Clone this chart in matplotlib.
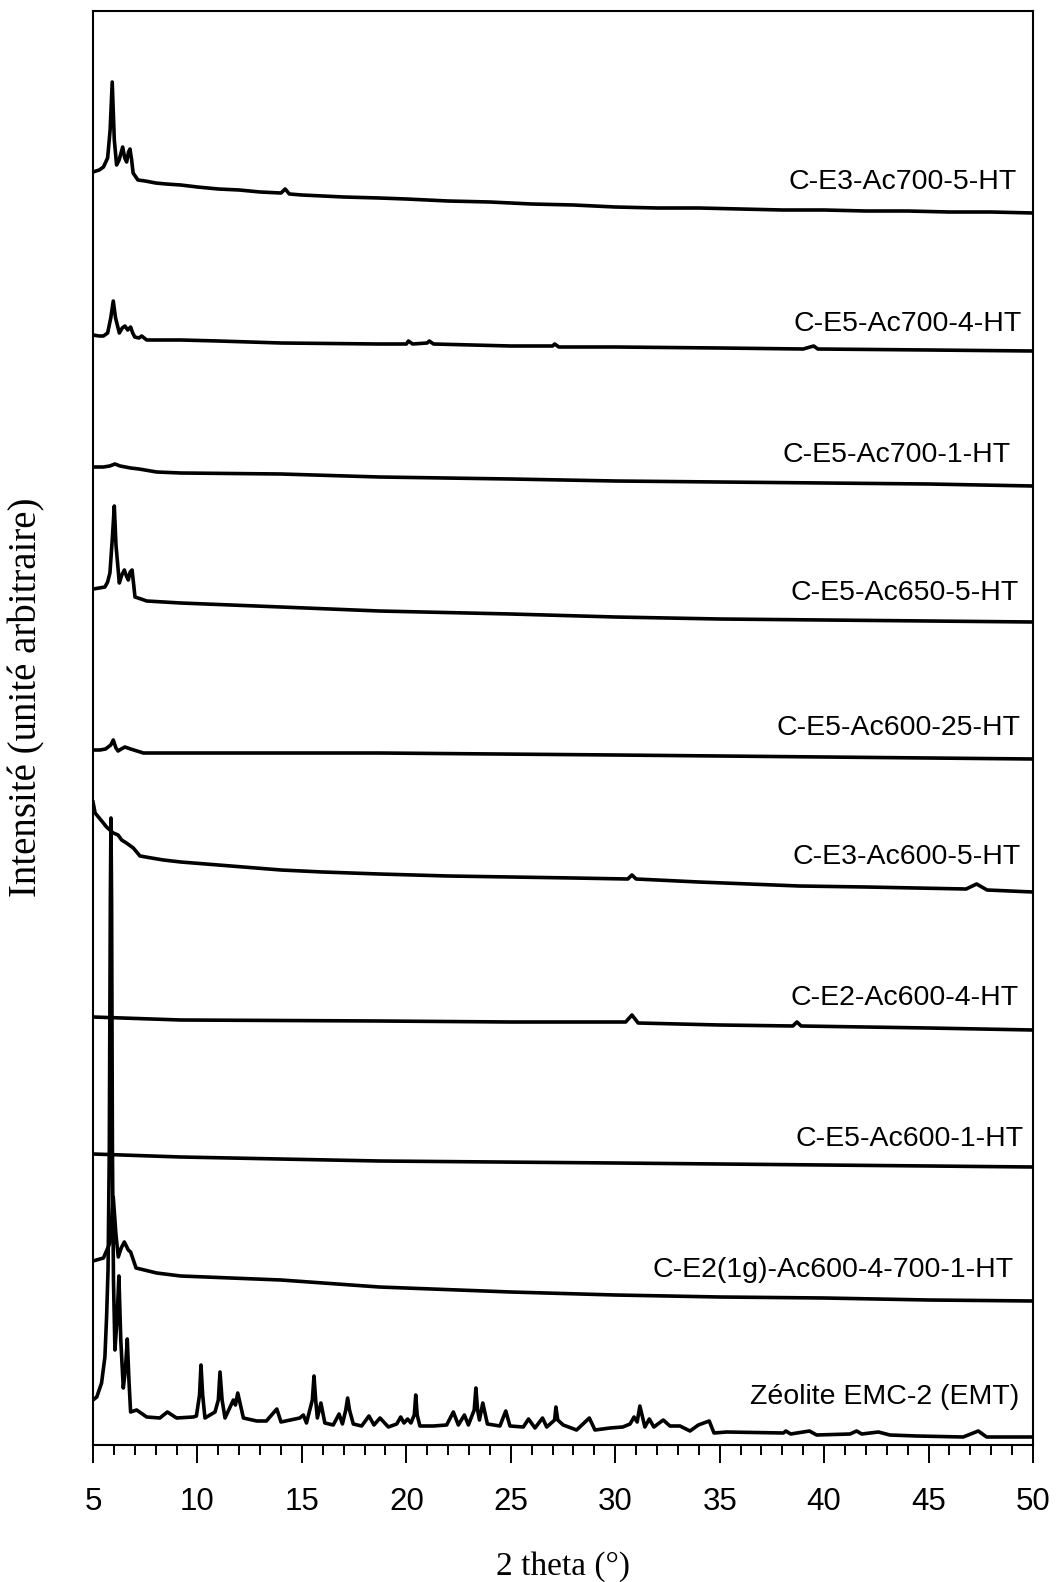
import matplotlib
matplotlib.use("Agg")
import matplotlib.pyplot as plt
import numpy as np

# ---------------- data (2 theta in degrees, intensity in arbitrary stacked units) ----------------
names = [
    "C-E3-Ac700-5-HT",
    "C-E5-Ac700-4-HT",
    "C-E5-Ac700-1-HT",
    "C-E5-Ac650-5-HT",
    "C-E5-Ac600-25-HT",
    "C-E3-Ac600-5-HT",
    "C-E2-Ac600-4-HT",
    "C-E5-Ac600-1-HT",
    "C-E2(1g)-Ac600-4-700-1-HT",
    "Zéolite EMC-2 (EMT)",
]

x_e3_700_5 = [5.0, 5.3, 5.5, 5.7, 5.82, 5.92, 6.02, 6.13, 6.25, 6.42, 6.52, 6.61, 6.7, 6.77, 6.85, 6.92,
              7.15, 7.5, 8.0, 8.5, 9.2, 10, 11, 12, 13, 14, 14.2, 14.4, 15, 16, 17, 18.7, 20, 22, 24, 26, 28,
              30, 32, 34, 36, 38, 40, 42, 44, 46, 48, 50]
y_e3_700_5 = [1273, 1275, 1278, 1287, 1315, 1363, 1305, 1280, 1285, 1298, 1287, 1283, 1293, 1296, 1285, 1272,
              1265, 1264, 1262, 1261, 1260, 1258, 1256, 1255, 1253, 1252, 1256, 1251, 1250, 1249, 1248, 1247,
              1246, 1244, 1243, 1241, 1240, 1238, 1237, 1237, 1236, 1235, 1235, 1234, 1234, 1233, 1233, 1232]

x_e5_700_4 = [5.0, 5.3, 5.5, 5.7, 5.85, 5.97, 6.08, 6.26, 6.4, 6.53, 6.66, 6.8, 6.9, 7.0, 7.2, 7.33, 7.57,
              8.5, 9.2, 11, 14, 18.7, 20, 20.1, 20.3, 21, 21.1, 21.3, 25, 27, 27.1, 27.3, 30, 35, 39, 39.5,
              39.7, 45, 50]
y_e5_700_4 = [1110, 1109, 1109, 1112, 1127, 1144, 1127, 1112, 1117, 1119, 1115, 1118, 1112, 1108, 1107, 1109,
              1105, 1105, 1105, 1104, 1102, 1101, 1101, 1104, 1101, 1102, 1104, 1101, 1099, 1099, 1101, 1098,
              1098, 1097, 1096, 1099, 1096, 1095, 1094]

x_e5_700_1 = [5.0, 5.5, 5.8, 6.05, 6.3, 6.8, 7.2, 8.05, 9.2, 14, 18.7, 25, 30, 35, 40, 45, 50]
y_e5_700_1 = [978, 978, 979, 981, 979, 977, 976, 973, 972, 971, 968, 966, 964, 963, 962, 961, 959]

x_e5_650_5 = [5.0, 5.3, 5.57, 5.7, 5.81, 5.92, 6.02, 6.1, 6.26, 6.38, 6.5, 6.6, 6.69, 6.78, 6.87, 6.95,
              7.01, 7.3, 7.57, 9.2, 14, 18.7, 25, 30, 35, 40, 45, 50]
y_e5_650_5 = [856, 857, 858, 863, 872, 905, 939, 900, 862, 870, 875, 869, 865, 873, 875, 860,
              848, 846, 844, 842, 838, 834, 831, 828, 826, 825, 824, 823]

x_e5_600_25 = [5.0, 5.33, 5.6, 5.85, 5.97, 6.1, 6.2, 6.35, 6.53, 6.8, 7.41, 9.2, 18.7, 30, 40, 50]
y_e5_600_25 = [695, 695, 696, 700, 705, 697, 694, 696, 698, 696, 692, 692, 692, 690, 688, 686]

x_e3_600_5 = [5.0, 5.1, 5.3, 5.65, 5.97, 6.2, 6.37, 6.6, 6.93, 7.25, 7.8, 8.37, 9.2, 11, 14, 16, 18.7, 22,
              25, 28, 30.6, 30.8, 31.0, 34, 38.8, 42, 46.8, 47.3, 47.8, 50]
y_e3_600_5 = [643, 632, 627, 618, 612, 610, 605, 602, 597, 589, 587, 585, 583, 580, 575, 573, 571, 569,
              568, 567, 566, 570, 566, 563, 559, 558, 556, 561, 555, 553]

x_e2_600_4 = [5.0, 9.2, 18.7, 25, 30.5, 30.8, 31.1, 35, 38.5, 38.7, 38.9, 45, 50]
y_e2_600_4 = [428, 425, 424, 423, 423, 430, 422, 420, 419, 423, 419, 417, 415]

x_e5_600_1 = [5.0, 9.2, 18.7, 30, 40, 50]
y_e5_600_1 = [291, 288, 284, 282, 280, 278]

x_e2_1g = [5.0, 5.5, 5.81, 5.97, 6.1, 6.21, 6.35, 6.5, 6.69, 6.8, 6.9, 7.06, 8.05, 9.2, 14, 18.7, 25, 30,
           35, 40, 45, 50]
y_e2_1g = [184, 187, 202, 248, 210, 188, 197, 203, 195, 193, 187, 177, 172, 169, 165, 158, 153, 150,
           148, 147, 145, 144]

x_emt = [5.0, 5.18, 5.41, 5.57, 5.65, 5.72, 5.78, 5.83, 5.86, 5.89, 5.93, 5.98, 6.05, 6.15, 6.24, 6.33,
         6.45, 6.55, 6.64, 6.72, 6.8, 7.09, 7.57, 8.2, 8.56, 9.0, 9.8, 9.95, 10.1, 10.17, 10.25, 10.36,
         10.84, 11.0, 11.08, 11.18, 11.32, 11.72, 11.82, 11.93, 12.2, 12.84, 13.3, 13.8, 14.0, 14.9,
         15.07, 15.22, 15.5, 15.58, 15.66, 15.74, 15.91, 16.1, 16.5, 16.78, 16.94, 17.1, 17.19, 17.28,
         17.46, 17.86, 18.21, 18.45, 18.74, 19.14, 19.54, 19.73, 19.89, 20.06, 20.22, 20.38, 20.45,
         20.52, 20.65, 21.29, 21.93, 22.25, 22.49, 22.78, 22.97, 23.25, 23.33, 23.41, 23.5, 23.66,
         23.88, 24.48, 24.76, 24.96, 25.6, 25.85, 26.16, 26.52, 26.72, 27.1, 27.16, 27.25, 27.51,
         28.15, 28.76, 29.03, 29.75, 30.36, 30.71, 30.9, 31.05, 31.18, 31.42, 31.63, 31.85, 32.3,
         32.62, 33.1, 33.58, 33.98, 34.5, 34.73, 35.33, 38.05, 38.17, 38.4, 39.3, 39.64, 41.24, 41.56,
         41.8, 42.6, 43.15, 44.43, 46.66, 47.38, 47.78, 50]
y_emt = [45, 48, 62, 88, 128, 175, 295, 545, 627, 545, 295, 165, 95, 125, 169, 105,
         57, 75, 106, 65, 33, 35, 28, 27, 33, 27, 28, 29, 50, 80, 50, 27,
         33, 45, 73, 45, 27, 45, 40, 52, 27, 24, 24, 36, 23, 27,
         30, 22, 45, 69, 45, 27, 42, 22, 20, 31, 21, 35, 47, 35,
         21, 19, 29, 20, 27, 18, 21, 28, 22, 26, 22, 30, 50,
         30, 19, 19, 20, 33, 20, 30, 20, 35, 57, 35, 25, 42,
         21, 19, 34, 19, 18, 26, 17, 27, 18, 25, 38, 25, 20,
         15, 27, 15, 17, 18, 21, 28, 23, 39, 18, 26, 18, 25,
         19, 19, 14, 20, 24, 12, 13, 12, 14, 11, 14, 10, 11, 14,
         11, 13, 10, 9, 8, 14, 8, 8]

series_x = [x_e3_700_5, x_e5_700_4, x_e5_700_1, x_e5_650_5, x_e5_600_25,
            x_e3_600_5, x_e2_600_4, x_e5_600_1, x_e2_1g, x_emt]
series_y = [y_e3_700_5, y_e5_700_4, y_e5_700_1, y_e5_650_5, y_e5_600_25,
            y_e3_600_5, y_e2_600_4, y_e5_600_1, y_e2_1g, y_emt]

label_x = [49.20, 49.45, 48.95, 49.30, 49.40, 49.40, 49.30, 49.55, 49.05, 49.35]
label_y = [1263, 1121, 990, 852, 717, 588, 447, 306, 175, 48]

xticks = [5, 10, 15, 20, 25, 30, 35, 40, 45, 50]

# ---------------- figure ----------------
W, H = 1056, 1582
fig = plt.figure(figsize=(W / 100, H / 100), dpi=100)
ax = fig.add_axes([93 / W, 1 - 1445 / H, (1033 - 93) / W, (1445 - 11) / H])

for xs, ys in zip(series_x, series_y):
    ax.plot(xs, ys, color="black", lw=2.6, solid_joinstyle="round")

for name, lx, ly in zip(names, label_x, label_y):
    ax.text(lx, ly, name, ha="right", va="center", fontsize=20.5,
            family="Liberation Sans", color="black")

ax.set_xlim(5, 50)
ax.set_ylim(0, 1434)
ax.set_xticks(xticks)
ax.set_xticklabels([str(t) for t in xticks], family="Liberation Sans", fontsize=22.5)
ax.set_xticks(np.arange(5, 51, 1), minor=True)
ax.set_yticks([])
ax.tick_params(axis="x", which="major", direction="out", length=13, width=1.4, pad=17)
ax.tick_params(axis="x", which="minor", direction="out", length=7, width=1.4)
for s in ax.spines.values():
    s.set_linewidth(1.5)

fig.text(563 / W, 1 - 1567 / H, "2 theta (°)", ha="center", va="center",
         family="Liberation Serif", fontsize=24)
fig.text(27 / W, 1 - 697 / H, "Intensité (unité arbitraire)", ha="center", va="center",
         rotation=90, family="Liberation Serif", fontsize=28)

fig.savefig("out.png", dpi=100)
